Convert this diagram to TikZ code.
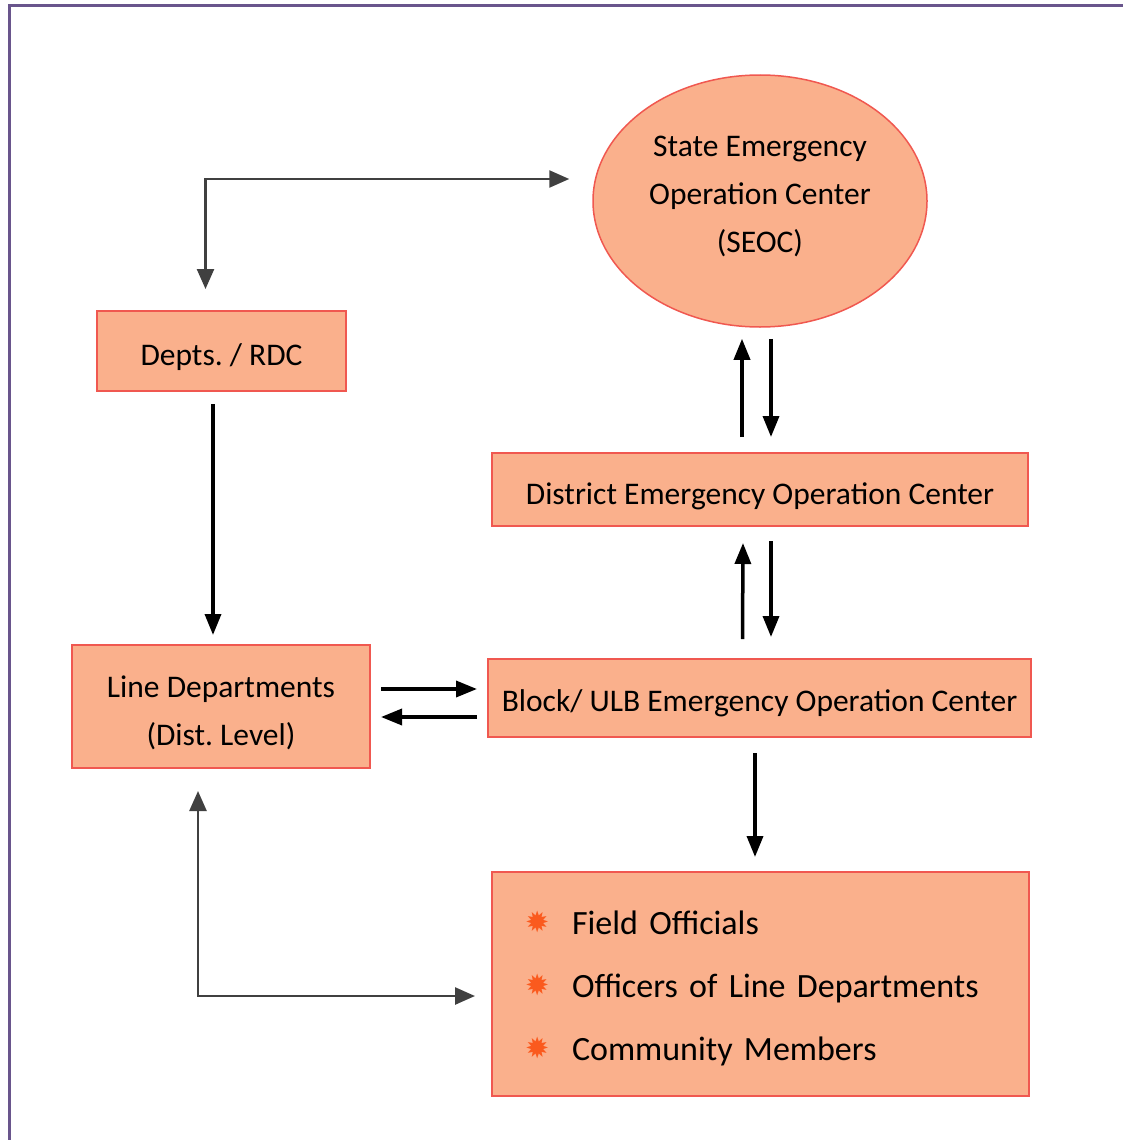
\documentclass[tikz,border=0pt]{standalone}
\usepackage{fontspec}
\setmainfont{Carlito}
\newfontfamily\bulletfont{Carlito}[WordSpace=0.8]
\newfontfamily\symfont{DejaVu Sans}
\usetikzlibrary{shapes.geometric,arrows.meta,calc}
\definecolor{boxfill}{RGB}{250,176,140}
\definecolor{boxline}{RGB}{240,88,80}
\definecolor{framec}{RGB}{105,85,140}
\definecolor{starc}{RGB}{250,90,30}
\newcommand\bstar{\makebox[47pt][l]{\raisebox{1.5pt}{\symfont\fontsize{29}{29}\selectfont\textcolor{starc}{✹}}}}
\newcommand\lowr[1]{\rule{0pt}{#1pt}}
\frenchspacing
\begin{document}
\begin{tikzpicture}[x=1pt,y=-1pt,
  box/.style={draw=boxline, line width=2pt, fill=boxfill, inner sep=0pt,
    font=\fontsize{31.5}{48}\selectfont, align=center},
  arr/.style={line width=3.5pt, -{Triangle[length=21pt,width=16pt]}},
  thinarr/.style={line width=2.5pt, draw=black!75, {Triangle[length=20pt,width=17pt]}-{Triangle[length=20pt,width=17pt]}}]
\useasboundingbox (0,0) rectangle (1123,1140);
\draw[framec, line width=2.5pt] (9.5,1140) -- (9.5,5.5) -- (1123,5.5);

\node[box, ellipse, line width=1.5pt, minimum width=334, minimum height=252] (seoc) at (760,201) {State Emergency\\Operation Center\\(SEOC)\rule[-14pt]{0pt}{1pt}};
\node[box, minimum width=249, minimum height=80] (rdc) at (221.5,351) {\lowr{35}Depts. / RDC};
\node[box, minimum width=536, minimum height=73] (dist) at (760,489.5) {\lowr{36}District Emergency Operation Center};
\node[box, minimum width=543, minimum height=78] (block) at (759.5,698) {\lowr{32}Block/ ULB Emergency Operation Center};
\node[box, minimum width=298, minimum height=123] (line) at (221,706.5) {\lowr{34}Line Departments\\(Dist. Level)};
\node[box, minimum width=537, minimum height=224, text width=471, inner xsep=33pt, align=left,
  font=\bulletfont\fontsize{34}{63}\selectfont] (field) at (760.5,984)
  {\lowr{32}\bstar Field Officials\\\bstar Officers of Line Departments\\\bstar Community Members};

% thin polylines
\draw[thinarr] ($(rdc.north)+(-16,-21)$) |- ($(seoc.west)+(-23,-22)$);
\draw[thinarr] ($(line.south)+(-23,22)$) |- ($(field.west)+(-16,12)$);

% thick arrows
\draw[arr] ($(rdc.south)+(-8.5,12)$) -- ($(line.north)+(-8,-9)$);
\draw[arr] ($(dist.north)+(-18,-15)$) -- ($(seoc.south)+(-18,11)$);
\draw[arr] ($(seoc.south)+(11,11)$) -- ($(dist.north)+(11,-15)$);
\draw[arr] ($(block.north)+(-17,-19)$) -- ($(dist.south)+(-17,16)$);
\draw[arr] ($(dist.south)+(11,14)$) -- ($(block.north)+(11.5,-21)$);
\draw[arr] ($(line.east)+(10,-17.5)$) -- ($(block.west)+(-10,-9)$);
\draw[arr] ($(block.west)+(-10,19)$) -- ($(line.east)+(10,10.5)$);
\draw[arr] ($(block.south)+(-4.5,15)$) -- ($(field.north)+(-5.5,-14)$);
\end{tikzpicture}
\end{document}
